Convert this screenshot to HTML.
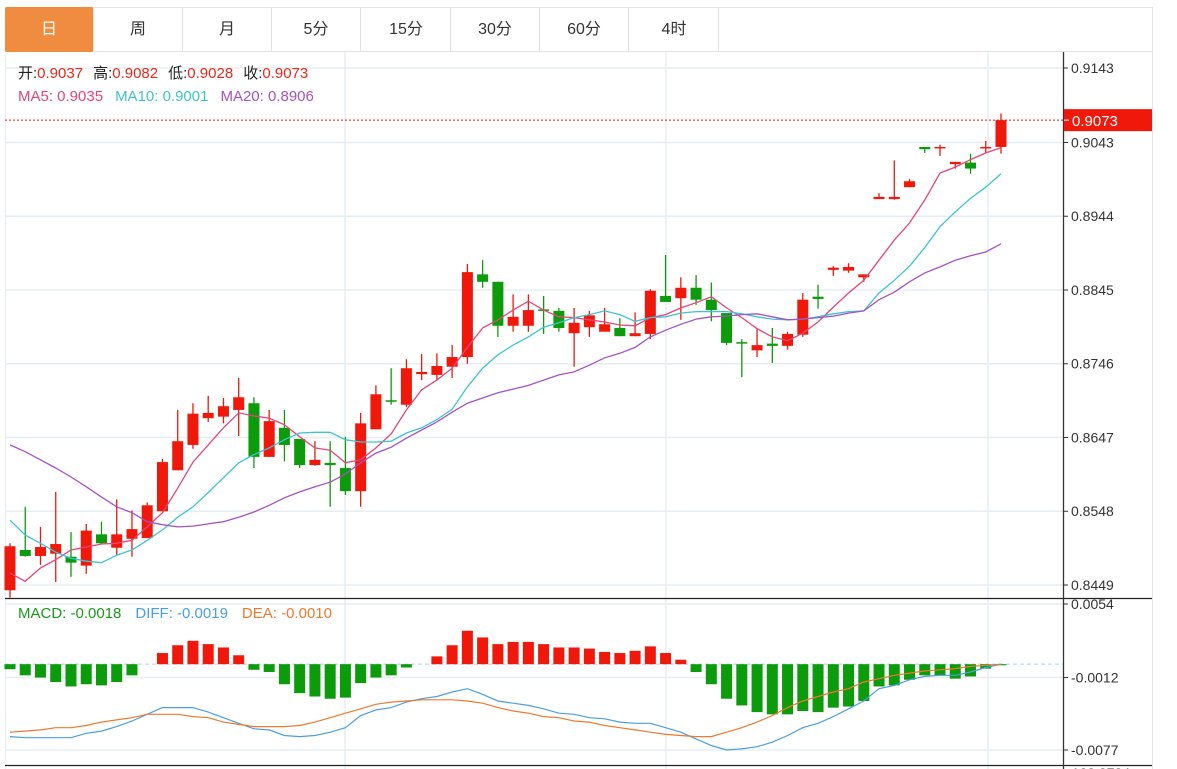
<!DOCTYPE html>
<html><head><meta charset="utf-8"><style>
body{margin:0;background:#fff;width:1177px;height:769px;overflow:hidden;font-family:"Liberation Sans","Noto Sans CJK SC",sans-serif}
#wrap{position:relative;width:1177px;height:769px}
.tab{position:absolute;top:7px;height:45px;width:89px;box-sizing:border-box;border-right:1px solid #e2e2e2;text-align:center;line-height:45px;font-size:16px;color:#333}
.tab.on{background:#f08c3f;color:#fff;border-radius:2px}
svg{position:absolute;left:0;top:0}
</style></head><body><div id="wrap">
<div style="position:absolute;left:5px;top:7px;width:1147px;height:45px;border-top:1px solid #e4e4e4;border-bottom:1px solid #e4e4e4;box-sizing:border-box"></div>
<div class="tab on" style="left:5px">日</div>
<div class="tab" style="left:94px">周</div>
<div class="tab" style="left:183px">月</div>
<div class="tab" style="left:272px">5分</div>
<div class="tab" style="left:362px">15分</div>
<div class="tab" style="left:451px">30分</div>
<div class="tab" style="left:540px">60分</div>
<div class="tab" style="left:630px">4时</div>
<svg id="c" width="1177" height="769" xmlns="http://www.w3.org/2000/svg"></svg>
</div>
<script>
const opens=[0.8442,0.8496,0.8488,0.8491,0.8487,0.8475,0.8517,0.8499,0.8511,0.8512,0.8548,0.8603,0.8637,0.8673,0.8675,0.8684,0.8693,0.8621,0.8660,0.8645,0.8610,0.8613,0.8606,0.8575,0.8658,0.8697,0.8691,0.8732,0.8731,0.8742,0.8755,0.8866,0.8856,0.8797,0.8797,0.8819,0.8817,0.8787,0.8795,0.8789,0.8794,0.8783,0.8786,0.8837,0.8834,0.8848,0.8832,0.8814,0.8775,0.8764,0.8773,0.8770,0.8785,0.8836,0.8872,0.8871,0.8862,0.8967,0.8967,0.8983,0.9037,0.9036,0.9014,0.9016,0.9036,0.9037];
const highs=[0.8505,0.8554,0.8527,0.8574,0.8520,0.8531,0.8534,0.8564,0.8549,0.8560,0.8618,0.8684,0.8693,0.8703,0.8700,0.8727,0.8701,0.8684,0.8684,0.8645,0.8642,0.8642,0.8648,0.8680,0.8717,0.8740,0.8752,0.8759,0.8760,0.8771,0.8880,0.8885,0.8856,0.8839,0.8839,0.8837,0.8821,0.8821,0.8817,0.8821,0.8807,0.8815,0.8846,0.8892,0.8862,0.8865,0.8855,0.8814,0.8779,0.8794,0.8794,0.8789,0.8841,0.8852,0.8877,0.8881,0.8866,0.8975,0.9019,0.8994,0.9037,0.9040,0.9017,0.9028,0.9045,0.9082];
const lows=[0.8432,0.8487,0.8476,0.8453,0.8460,0.8464,0.8504,0.8489,0.8487,0.8512,0.8548,0.8603,0.8632,0.8668,0.8666,0.8649,0.8606,0.8621,0.8615,0.8606,0.8609,0.8554,0.8570,0.8554,0.8658,0.8691,0.8688,0.8724,0.8725,0.8727,0.8746,0.8848,0.8782,0.8789,0.8789,0.8786,0.8789,0.8742,0.8782,0.8789,0.8783,0.8783,0.8779,0.8829,0.8805,0.8825,0.8803,0.8771,0.8728,0.8755,0.8747,0.8765,0.8782,0.8820,0.8864,0.8868,0.8856,0.8967,0.8966,0.8983,0.9029,0.9025,0.9008,0.9001,0.9029,0.9028];
const closes=[0.8501,0.8488,0.8500,0.8504,0.8479,0.8522,0.8505,0.8517,0.8524,0.8556,0.8614,0.8642,0.8679,0.8680,0.8689,0.8701,0.8621,0.8669,0.8637,0.8610,0.8617,0.8610,0.8575,0.8666,0.8705,0.8695,0.8740,0.8735,0.8743,0.8755,0.8869,0.8856,0.8797,0.8809,0.8818,0.8817,0.8794,0.8801,0.8811,0.8799,0.8783,0.8787,0.8844,0.8829,0.8848,0.8832,0.8818,0.8774,0.8773,0.8771,0.8770,0.8786,0.8832,0.8833,0.8875,0.8876,0.8866,0.8970,0.8970,0.8991,0.9034,0.9037,0.9017,0.9008,0.9037,0.9073];
const ma5=[0.8465,0.8454,0.8472,0.8483,0.8496,0.8500,0.8504,0.8505,0.8509,0.8527,0.8546,0.8579,0.8614,0.8637,0.8660,0.8680,0.8676,0.8673,0.8664,0.8648,0.8633,0.8630,0.8613,0.8617,0.8633,0.8652,0.8684,0.8711,0.8724,0.8740,0.8768,0.8794,0.8805,0.8818,0.8830,0.8818,0.8809,0.8808,0.8805,0.8802,0.8798,0.8797,0.8808,0.8812,0.8821,0.8828,0.8836,0.8821,0.8808,0.8793,0.8782,0.8777,0.8787,0.8802,0.8822,0.8841,0.8858,0.8885,0.8912,0.8935,0.8966,0.9002,0.9010,0.9020,0.9029,0.9036];
const ma10=[0.8536,0.8516,0.8505,0.8493,0.8485,0.8481,0.8479,0.8489,0.8496,0.8509,0.8523,0.8540,0.8554,0.8573,0.8593,0.8613,0.8624,0.8633,0.8644,0.8653,0.8654,0.8654,0.8644,0.8641,0.8641,0.8642,0.8653,0.8660,0.8671,0.8685,0.8715,0.8740,0.8758,0.8771,0.8782,0.8795,0.8801,0.8808,0.8812,0.8817,0.8812,0.8803,0.8808,0.8809,0.8814,0.8816,0.8816,0.8816,0.8813,0.8809,0.8806,0.8805,0.8806,0.8809,0.8813,0.8816,0.8817,0.8841,0.8858,0.8877,0.8902,0.8930,0.8950,0.8968,0.8983,0.9001];
const ma20=[0.8637,0.8628,0.8617,0.8606,0.8594,0.8581,0.8567,0.8554,0.8546,0.8534,0.8530,0.8527,0.8528,0.8531,0.8534,0.8540,0.8547,0.8556,0.8566,0.8574,0.8581,0.8587,0.8598,0.8613,0.8626,0.8634,0.8646,0.8657,0.8668,0.8681,0.8693,0.8700,0.8707,0.8712,0.8717,0.8724,0.8731,0.8735,0.8744,0.8754,0.8760,0.8768,0.8782,0.8791,0.8799,0.8806,0.8809,0.8810,0.8812,0.8813,0.8809,0.8805,0.8806,0.8808,0.8810,0.8814,0.8817,0.8832,0.8842,0.8856,0.8868,0.8876,0.8885,0.8891,0.8896,0.8907];
const macdHist=[-0.00045,-0.0010,-0.0012,-0.0016,-0.0020,-0.0018,-0.0019,-0.0016,-0.0010,0.0000,0.0010,0.0017,0.0021,0.0018,0.0015,0.0008,-0.0005,-0.0007,-0.0018,-0.0026,-0.0029,-0.0031,-0.0030,-0.0017,-0.0012,-0.0010,-0.0003,0.0000,0.0007,0.0017,0.0030,0.0024,0.0018,0.0020,0.0020,0.0018,0.0015,0.0015,0.0014,0.0011,0.0010,0.0012,0.0016,0.0010,0.0004,-0.0007,-0.0018,-0.0031,-0.0037,-0.0043,-0.0045,-0.0045,-0.0042,-0.0043,-0.0039,-0.0038,-0.0033,-0.0020,-0.0019,-0.0014,-0.0010,-0.0010,-0.0013,-0.0011,-0.0004,-0.0001];
const diff=[-0.0065,-0.0066,-0.0066,-0.0066,-0.0066,-0.0062,-0.0060,-0.0056,-0.0051,-0.0045,-0.0039,-0.0039,-0.0039,-0.0043,-0.0048,-0.0053,-0.0058,-0.0059,-0.0064,-0.0065,-0.0064,-0.0061,-0.0057,-0.0046,-0.0041,-0.0039,-0.0034,-0.0031,-0.0029,-0.0025,-0.0022,-0.0027,-0.0033,-0.0035,-0.0037,-0.0040,-0.0044,-0.0045,-0.0048,-0.0049,-0.0052,-0.0053,-0.0053,-0.0057,-0.0061,-0.0067,-0.0073,-0.0077,-0.0076,-0.0074,-0.0070,-0.0064,-0.0057,-0.0053,-0.0047,-0.0040,-0.0033,-0.0022,-0.0019,-0.0014,-0.0011,-0.0010,-0.0010,-0.0007,-0.0003,0.0000];
const dea=[-0.0061,-0.0060,-0.0059,-0.0057,-0.0057,-0.0055,-0.0052,-0.0050,-0.0048,-0.0045,-0.0045,-0.0045,-0.0047,-0.0048,-0.0052,-0.0054,-0.0056,-0.0056,-0.0056,-0.0055,-0.0052,-0.0048,-0.0044,-0.0040,-0.0036,-0.0034,-0.0033,-0.0032,-0.0032,-0.0032,-0.0033,-0.0035,-0.0039,-0.0042,-0.0044,-0.0047,-0.0048,-0.0051,-0.0052,-0.0055,-0.0057,-0.0059,-0.0061,-0.0063,-0.0064,-0.0065,-0.0065,-0.0061,-0.0057,-0.0052,-0.0046,-0.0039,-0.0033,-0.0029,-0.0025,-0.0022,-0.0016,-0.0013,-0.0010,-0.0008,-0.0006,-0.0005,-0.0004,-0.0002,-0.0001,0.0000];
const priceTicks=[0.9143,0.9043,0.8944,0.8845,0.8746,0.8647,0.8548,0.8449];
const macdTicks=[0.0054,-0.0012,-0.0077];
const lastPrice=0.9073;

const svg=document.getElementById('c');
const NS='http://www.w3.org/2000/svg';
const RED='#f0180a',GREEN='#0b9b0b';
function xAt(i){return 10+i*(991/65);}
function yP(v){return 68+(0.9143-v)*(517/0.0694);}
function yM(v){return 604+(0.0054-v)*(146/0.0131);}
function mk(tag,attrs,parent){const e=document.createElementNS(NS,tag);for(const k in attrs)e.setAttribute(k,attrs[k]);(parent||svg).appendChild(e);return e;}

// frame & grid
const grid=mk('g',{});


priceTicks.forEach(t=>mk('line',{x1:5,x2:1063,y1:yP(t),y2:yP(t),stroke:'#e6edf3','stroke-width':1.5},grid));
macdTicks.forEach(t=>mk('line',{x1:5,x2:1063,y1:yM(t),y2:yM(t),stroke:'#e6edf3','stroke-width':1.5},grid));
[345,666,988].forEach(x=>mk('line',{x1:x,x2:x,y1:52,y2:769,stroke:'#e6edf3','stroke-width':1.5},grid));
mk('line',{x1:5.5,x2:5.5,y1:52,y2:769,stroke:'#e6edf3'},grid);
mk('line',{x1:1152.5,x2:1152.5,y1:7,y2:769,stroke:'#e4e4e4'},grid);

// candles
const cg=mk('g',{});


opens.forEach((o,i)=>{
  const c=closes[i],up=c>=o,col=up?RED:GREEN,x=xAt(i);
  const g=mk('g',{},cg);
  
  
  mk('line',{x1:x,x2:x,y1:yP(highs[i]),y2:yP(lows[i]),stroke:col,'stroke-width':1.3},g);
  const t=yP(Math.max(o,c)),b=yP(Math.min(o,c));
  mk('rect',{x:x-5.5,y:t,width:11,height:Math.max(b-t,1.5),fill:col},g);
});
function line(arr,yf,col,name,w){
  let d='';arr.forEach((v,i)=>{d+=(i?'L':'M')+xAt(i).toFixed(1)+' '+yf(v).toFixed(1);});
  const p=mk('path',{d:d,fill:'none',stroke:col,'stroke-width':w||1.3});
  
  
}
line(ma5,yP,'#e2467c','ma5-line');
line(ma10,yP,'#3ec3d3','ma10-line');
line(ma20,yP,'#a552c2','ma20-line');

// last price line
const lp=mk('line',{x1:5,x2:1063,y1:yP(lastPrice),y2:yP(lastPrice),stroke:RED,'stroke-dasharray':'2,2'});



// MACD
const zl=mk('line',{x1:5,x2:1063,y1:yM(0),y2:yM(0),stroke:'#a8d3ea','stroke-dasharray':'4,3'});


const hg=mk('g',{});


macdHist.forEach((v,i)=>{
  const y0=yM(0),y1=yM(v);
  const r=mk('rect',{x:xAt(i)-5.5,y:Math.min(y0,y1),width:11,height:Math.abs(y1-y0),fill:v>=0?RED:GREEN},hg);
  
  
});
line(diff,yM,'#4b9fe1','diff-line',1.2);
line(dea,yM,'#ec7a2c','dea-line',1.2);

// panel separators & axis
mk('line',{x1:5,x2:1152,y1:598.5,y2:598.5,stroke:'#222','stroke-width':1.3});
mk('line',{x1:5,x2:1152,y1:765.5,y2:765.5,stroke:'#222','stroke-width':1.3});
mk('line',{x1:1063.5,x2:1063.5,y1:52,y2:769,stroke:'#333','stroke-width':1.3});

const ax=mk('g',{'font-size':14,fill:'#333'});


priceTicks.forEach(t=>{
  const y=yP(t);
  mk('line',{x1:1063,x2:1068,y1:y,y2:y,stroke:'#333'},ax);
  const tx=mk('text',{x:1071,y:y+5},ax);tx.textContent=t.toFixed(4);
  
  
});
macdTicks.forEach(t=>{
  const y=yM(t);
  mk('line',{x1:1063,x2:1068,y1:y,y2:y,stroke:'#333'},ax);
  const tx=mk('text',{x:1071,y:y+5},ax);tx.textContent=(t<0?'-':'')+Math.abs(t).toFixed(4);
  
  
});
const cut=mk('text',{x:1067,y:778},ax);cut.textContent='-128.3734';



// price tag
const tagG=mk('g',{});


const ly=yP(lastPrice);
mk('rect',{x:1064,y:ly-11,width:88,height:22,fill:RED},tagG);
mk('line',{x1:1064,x2:1069,y1:ly,y2:ly,stroke:'#fff'},tagG);
const tt=mk('text',{x:1072,y:ly+6,'font-size':15,fill:'#fff'},tagG);tt.textContent=lastPrice.toFixed(4);

// legends
function legend(y,items,name){
  const t=mk('text',{x:18,y:y,'font-size':15});
  
  
  items.forEach(([s,c,dx])=>{const sp=mk('tspan',{fill:c},t);if(dx)sp.setAttribute('dx',dx);sp.textContent=s;});
}
legend(78,[['开:','#222'],[opens[65].toFixed(4),'#e8281c'],['高:','#222',10],[highs[65].toFixed(4),'#e8281c'],['低:','#222',10],[lows[65].toFixed(4),'#e8281c'],['收:','#222',10],[closes[65].toFixed(4),'#e8281c']],'ohlc-legend');
legend(101,[['MA5: 0.9035','#e2467c'],['MA10: 0.9001','#3ec3d3',12],['MA20: 0.8906','#a552c2',12]],'ma-legend');
legend(618,[['MACD: -0.0018','#1a9a1a'],['DIFF: -0.0019','#4b9fe1',14],['DEA: -0.0010','#ec7a2c',14]],'macd-legend');
</script></body></html>
